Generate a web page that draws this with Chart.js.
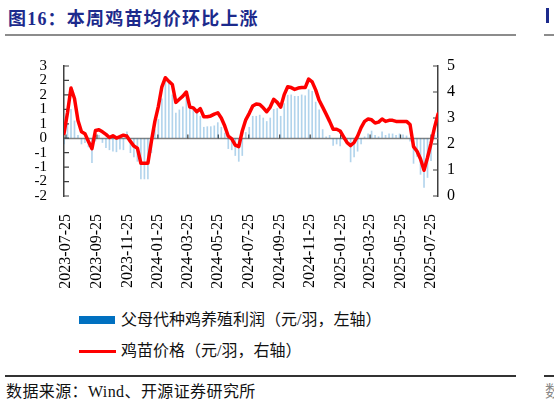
<!DOCTYPE html>
<html>
<head>
<meta charset="utf-8">
<script src="https://cdn.jsdelivr.net/npm/chart.js@4/dist/chart.umd.min.js"></script>
<style>
  body { margin: 0; width: 554px; height: 402px; position: relative; overflow: hidden; background: #fff;
         font-family: "Liberation Serif", "Noto Sans CJK SC", serif; color: #000; }
  #title { position: absolute; left: 8px; top: 4px; font-size: 18px; font-weight: bold; color: #1c2a8c;
           letter-spacing: 1.2px; white-space: nowrap; }
  .rule { position: absolute; height: 2px; background: #8c8c8c; }
  .rule.dark { height: 1.5px; background: #333; }
  #wrap { position: absolute; left: 0; top: 40px; width: 490px; height: 260px; }
  .leg { position: absolute; left: 79px; height: 20px; font-size: 16px; white-space: nowrap; color: #111; }
  .leg span.sw { position: absolute; left: 0; }
  .leg span.tx { position: absolute; left: 42px; top: 0; line-height: 20px; }
  #src { position: absolute; left: 6px; top: 378px; font-size: 16px; white-space: nowrap; letter-spacing: 0.4px; color: #111; }
  #frag1 { position: absolute; left: 546px; top: 8px; width: 3px; height: 15px; background: #1c2a8c; }
  #frag2 { position: absolute; left: 545px; top: 378px; font-size: 16px; color: #888; }
</style>
</head>
<body>
<div id="title">图16：本周鸡苗均价环比上涨</div>
<div class="rule" style="left:5px;top:34px;width:511px"></div>
<div class="rule" style="left:544px;top:34px;width:10px"></div>
<div id="frag1"></div>

<div id="wrap"><canvas id="chicks-chart" width="490" height="260"></canvas></div>

<div class="leg" style="top:310px">
  <span class="sw" style="top:6px;width:36px;height:8px;background:#0070c0"></span>
  <span class="tx">父母代种鸡养殖利润（元/羽，左轴）</span>
</div>
<div class="leg" style="top:341px">
  <span class="sw" style="top:9px;width:37px;height:3px;background:#ff0000"></span>
  <span class="tx">鸡苗价格（元/羽，右轴）</span>
</div>

<div class="rule dark" style="left:5px;top:375px;width:511px"></div>
<div class="rule dark" style="left:544px;top:375px;width:10px"></div>
<div id="src">数据来源：Wind、开源证券研究所</div>
<div id="frag2">数</div>

<script>
// DATA
const firstWeek = '2023-07-21';
const lastWeek = '2025-08-08';
const tickDates = ['2023-07-25', '2023-09-25', '2023-11-25', '2024-01-25', '2024-03-25', '2024-05-25',
                   '2024-07-25', '2024-09-25', '2024-11-25', '2025-01-25', '2025-03-25', '2025-05-25', '2025-07-25'];

// 父母代种鸡养殖利润 (元/羽, left axis), weekly
const breederProfit = [
  -0.2, 0.5, 1.0, 0.6, 0.1, -0.2, -0.15, -0.3, -0.85, -0.1,
  0.1, -0.15, -0.33, -0.4, -0.45, -0.47, -0.38, -0.4, 0.22, -0.5,
  -0.65, -0.8, -1.41, -1.41, -1.41, -0.5, 0.3, 0.65, 1.36, 2.0,
  2.0, 1.5, 0.87, 0.98, 1.09, 1.45, 1.09, 1.03, 0.87, 0.76,
  0.38, 0.4, 0.4, 0.43, 0.54, 0.38, 0.18, -0.36, -0.4, -0.6,
  -0.8, -0.6, 0.2, 0.38, 0.76, 0.76, 0.8, 0.7, 0.58, 0.7,
  1.0, 1.03, 0.76, 1.2, 1.49, 1.5, 1.45, 1.45, 1.5, 1.47,
  1.68, 1.62, 1.25, 0.98, 0.3, 0.05, 0.1, -0.25, -0.2, -0.27,
  -0.05, -0.1, -0.82, -0.65, -0.45, -0.2, 0.05, 0.15, 0.25, 0.1,
  0.05, 0.22, 0.1, 0.15, 0.15, 0.1, 0.15, 0.12, 0.08, -0.1,
  -0.87, -0.63, -1.25, -1.7, -1.36, -0.78, 0.1, 0.2
];

// 鸡苗价格 (元/羽, right axis), weekly
const chickPrice = [
  2.4, 3.2, 4.15, 3.75, 2.9, 2.47, 2.39, 2.1, 1.82, 2.52,
  2.55, 2.47, 2.37, 2.25, 2.32, 2.23, 2.28, 2.34, 2.3, 2.1,
  1.92, 1.84, 1.26, 1.26, 1.26, 2.1, 2.87, 3.45, 4.2, 4.55,
  4.41, 4.29, 3.6, 3.72, 3.84, 4.0, 3.42, 3.39, 3.24, 3.36,
  3.05, 3.05, 3.08, 3.15, 3.2, 3.0, 2.69, 2.3, 2.2, 1.96,
  1.9, 2.5, 2.93, 3.18, 3.46, 3.54, 3.52, 3.39, 3.24, 3.42,
  3.72, 3.6, 3.42, 3.9, 4.2, 4.17, 4.1, 4.15, 4.17, 4.17,
  4.5, 4.39, 4.08, 3.68, 3.42, 3.15, 2.87, 2.57, 2.57, 2.5,
  2.27, 2.05, 1.94, 2.06, 2.3, 2.63, 2.87, 2.96, 2.93, 2.81,
  2.84, 2.96, 2.87, 2.91, 2.91, 2.87, 2.87, 2.87, 2.87, 2.75,
  1.9, 1.72, 1.42, 0.99, 1.48, 2.02, 2.63, 3.15
];

// DATE HELPERS (days since epoch)
function dayNum(s) {
  const [y, m, d] = s.split('-').map(Number);
  return Date.UTC(y, m - 1, d) / 86400000;
}
function dayLabel(n) {
  return new Date(n * 86400000).toISOString().slice(0, 10);
}

const weeks = breederProfit.map((_, i) => dayNum(firstWeek) + i * 7);

// zero line + inward tick marks
const axisMarks = {
  id: 'axisMarks',
  beforeDatasetsDraw(chart) {
    const { ctx, chartArea: a, scales } = chart;
    const y0 = Math.round(scales.y.getPixelForValue(0)) + 0.5;
    ctx.save();
    ctx.strokeStyle = '#808080';
    ctx.lineWidth = 1.5;
    ctx.beginPath();
    ctx.moveTo(a.left, y0);
    ctx.lineTo(a.right, y0);
    ctx.stroke();

    ctx.strokeStyle = '#404040';
    ctx.lineWidth = 1.2;
    ctx.beginPath();
    scales.x.ticks.forEach(t => {
      const px = scales.x.getPixelForValue(t.value);
      ctx.moveTo(px, y0);
      ctx.lineTo(px, y0 - 4);
    });
    scales.y.ticks.forEach(t => {
      const py = scales.y.getPixelForValue(t.value);
      ctx.moveTo(a.left, py);
      ctx.lineTo(a.left + 5, py);
    });
    scales.y1.ticks.forEach(t => {
      const py = scales.y1.getPixelForValue(t.value);
      ctx.moveTo(a.right, py);
      ctx.lineTo(a.right - 5, py);
    });
    ctx.stroke();
    ctx.restore();
  }
};

const tickFont = { family: '"Liberation Serif", serif', size: 16 };

const chicksChart = document.getElementById('chicks-chart').getContext('2d');
new Chart(chicksChart, {
  type: 'bar',
  data: {
    datasets: [
      {
        type: 'line',
        label: '鸡苗价格（元/羽，右轴）',
        data: weeks.map((x, i) => ({ x: x, y: chickPrice[i] })),
        borderColor: '#ff0000',
        borderWidth: 3.5,
        borderJoinStyle: 'round',
        borderCapStyle: 'round',
        pointRadius: 0,
        tension: 0,
        yAxisID: 'y1',
        order: 0
      },
      {
        type: 'bar',
        label: '父母代种鸡养殖利润（元/羽，左轴）',
        data: weeks.map((x, i) => ({ x: x, y: breederProfit[i] })),
        backgroundColor: 'rgba(0,112,192,0.3)',
        barThickness: 1,
        yAxisID: 'y',
        order: 1
      }
    ]
  },
  options: {
    responsive: false,
    animation: false,
    layout: { padding: { top: 18, left: 0, right: 0, bottom: 0 } },
    plugins: { legend: { display: false }, tooltip: { enabled: false } },
    scales: {
      x: {
        type: 'linear',
        offset: false,
        min: dayNum(firstWeek),
        max: dayNum(lastWeek),
        afterBuildTicks: s => { s.ticks = tickDates.map(d => ({ value: dayNum(d) })); },
        afterFit: s => { s.height = 104; },
        grid: { display: false, offset: false },
        border: { display: false },
        ticks: {
          callback: v => dayLabel(v),
          autoSkip: false,
          minRotation: 90,
          maxRotation: 90,
          padding: 10,
          color: '#000',
          font: tickFont
        }
      },
      y: {
        position: 'left',
        min: -2,
        max: 2.5,
        afterFit: s => { s.width = 64; },
        grid: { drawOnChartArea: false, drawTicks: false },
        border: { color: '#404040', width: 1.5 },
        ticks: {
          stepSize: 0.5,
          autoSkip: false,
          padding: 17,
          color: '#000',
          font: { family: '"Liberation Serif", serif', size: 15 },
          callback: v => String(Math.sign(v) * Math.round(Math.abs(v)))
        }
      },
      y1: {
        position: 'right',
        min: 0,
        max: 5,
        afterFit: s => { s.width = 52; },
        grid: { drawOnChartArea: false, drawTicks: false },
        border: { color: '#404040', width: 1.5 },
        ticks: { stepSize: 1, autoSkip: false, padding: 9, color: '#000', font: tickFont }
      }
    }
  },
  plugins: [axisMarks]
});
</script>
</body>
</html>
